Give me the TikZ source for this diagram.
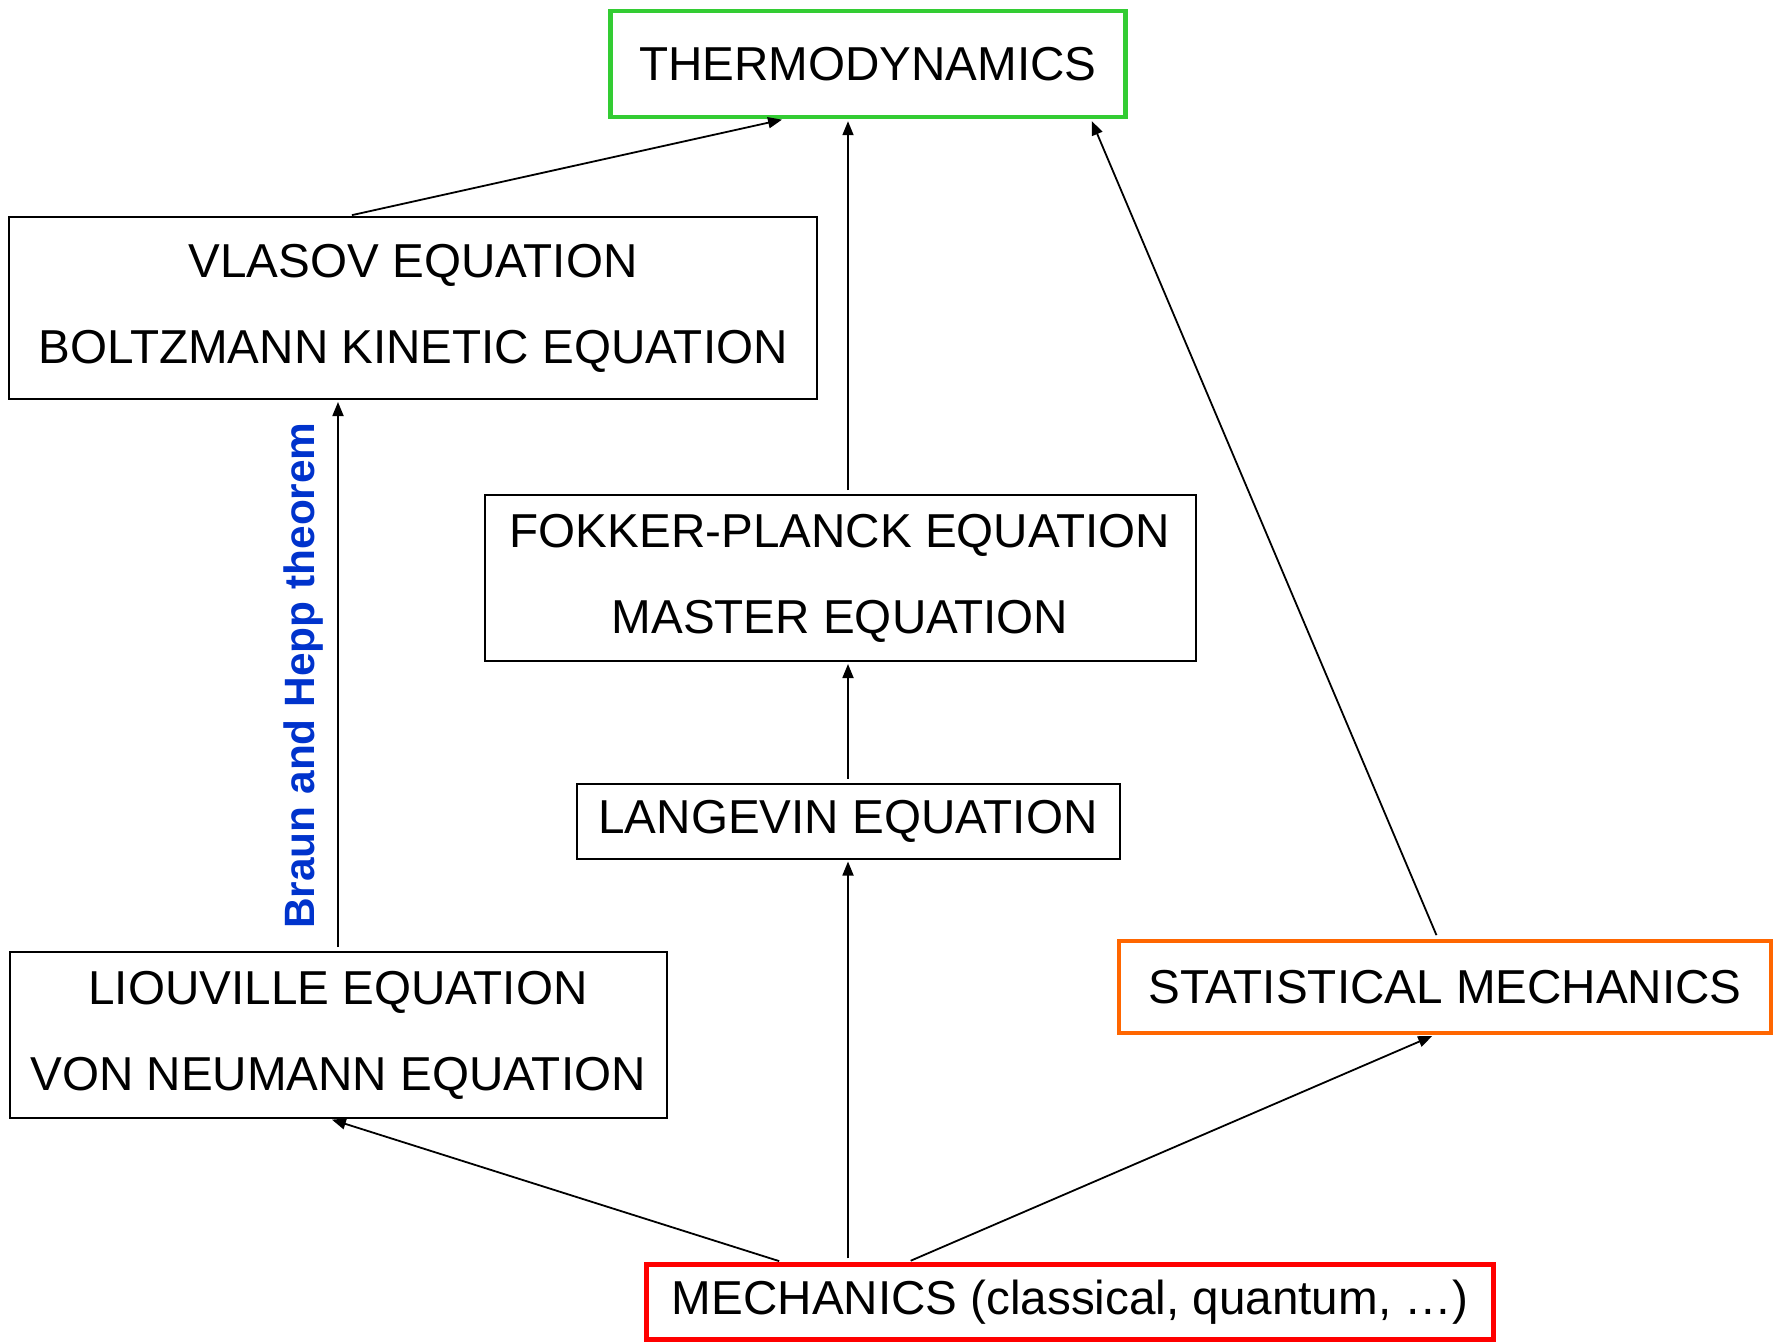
\documentclass[tikz,border=0pt]{standalone}
\usepackage{fontspec}
\setmainfont{Liberation Sans}
\usepackage{tikz}
\usetikzlibrary{arrows.meta}
\definecolor{thermogreen}{RGB}{51,204,51}
\definecolor{statorange}{RGB}{255,102,0}
\definecolor{mechred}{RGB}{255,0,0}
\definecolor{heppblue}{RGB}{0,51,204}

\begin{document}
\begin{tikzpicture}[x=0.5pt, y=-0.5pt, >={Triangle[length=7pt,width=5.5pt]},
    eqbox/.style={draw, line width=1pt, inner sep=0pt, align=center,
        font=\fontsize{23.8}{43}\selectfont},
    keybox/.style={eqbox, line width=2.2pt},
    link/.style={->, line width=0.9pt, shorten <=2pt, shorten >=1pt}]
    \useasboundingbox (0,0) rectangle (1782,1341);

    % Top and bottom
    \node[keybox, draw=thermogreen, minimum width=257.5pt, minimum height=53pt] (thermo) at (868,64) {THERMODYNAMICS};
    \node[keybox, draw=mechred, minimum width=423.5pt, minimum height=37.5pt] (mech) at (1070,1302) {MECHANICS (classical, quantum, …)};
    \node[keybox, draw=statorange, minimum width=326pt, minimum height=46pt] (stat) at (1445,987) {STATISTICAL MECHANICS};

    % Equations
    \node[eqbox, minimum width=404pt, minimum height=91pt] (vlasov) at (413,308) {VLASOV EQUATION\\BOLTZMANN KINETIC EQUATION};
    \node[eqbox, minimum width=355.5pt, minimum height=83pt] (fokker) at (840,578) {FOKKER-PLANCK EQUATION\\MASTER EQUATION};
    \node[eqbox, minimum width=271.5pt, minimum height=37.5pt] (langevin) at (848,821) {LANGEVIN EQUATION};
    \node[eqbox, minimum width=328.5pt, minimum height=83pt] (liouville) at (338,1035) {LIOUVILLE EQUATION\\VON NEUMANN EQUATION};

    % From mechanics
    \draw[link] ([xshift=-143.5pt]mech.north) -- ([xshift=-4pt]liouville.south);
    \draw[link] (mech.north -| langevin.south) -- (langevin.south);
    \draw[link] ([xshift=-81.5pt]mech.north) -- ([xshift=-5.5pt]stat.south);

    % Up to thermodynamics
    \draw[link] (langevin.north) -- (langevin.north |- fokker.south);
    \draw[link] (fokker.north -| langevin.north) -- (thermo.south -| langevin.north);
    \draw[link] ([xshift=-3.5pt]stat.north) -- ([xshift=111.5pt]thermo.south);
    \draw[link] ([xshift=-32.5pt]vlasov.north) -- ([xshift=-42pt]thermo.south);

    % Braun and Hepp
    \draw[link] (liouville.north) -- (liouville.north |- vlasov.south)
        node[midway, rotate=90, anchor=south, inner sep=7pt, text=heppblue,
            font=\bfseries\fontsize{21.2}{24}\selectfont] (hepp) {Braun and Hepp theorem};
\end{tikzpicture}
\end{document}
